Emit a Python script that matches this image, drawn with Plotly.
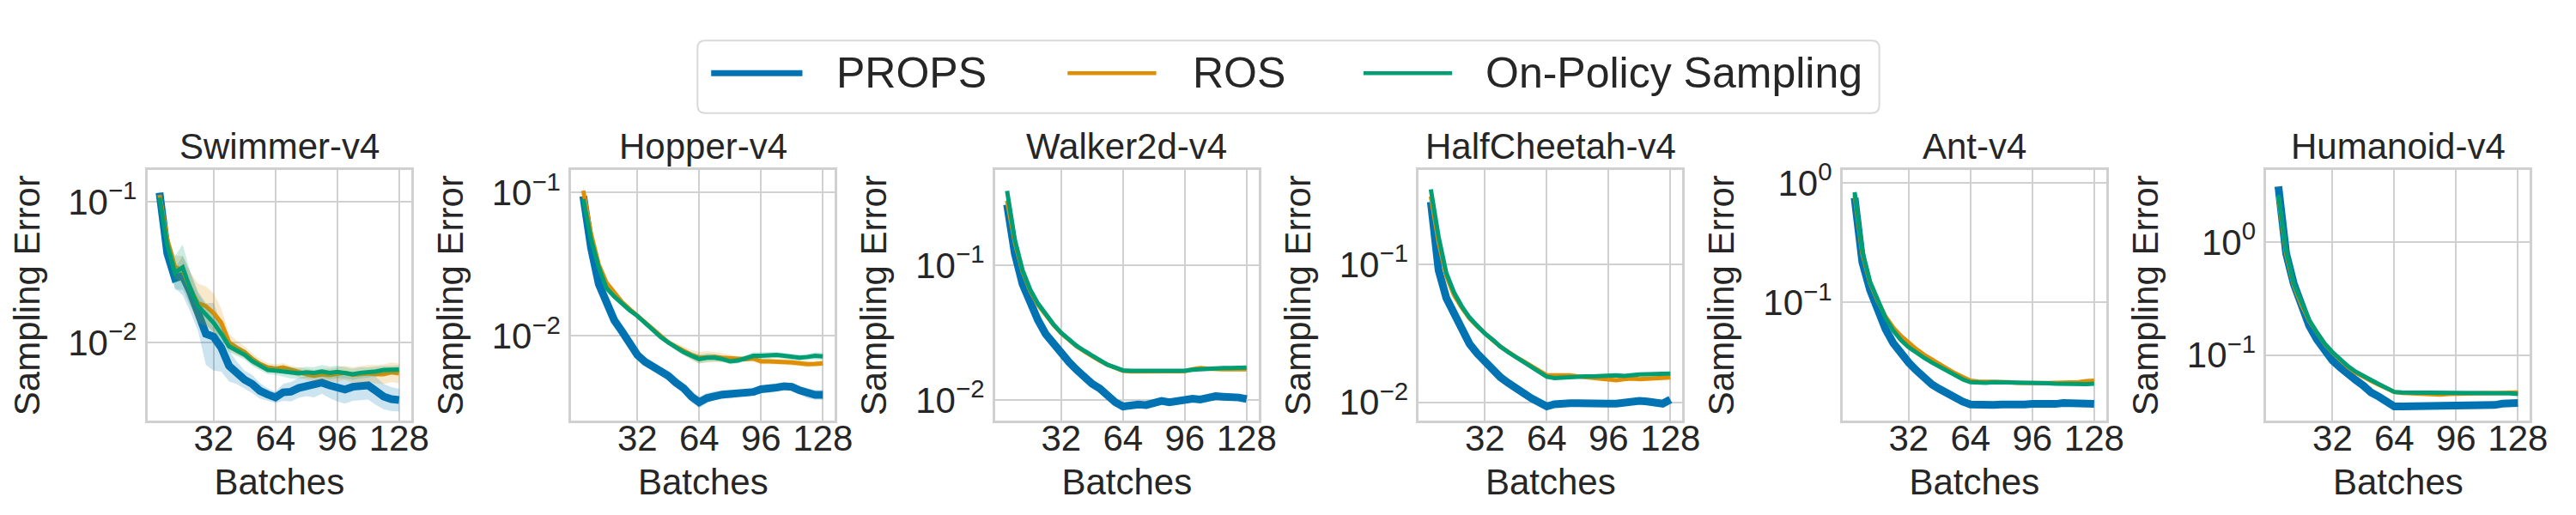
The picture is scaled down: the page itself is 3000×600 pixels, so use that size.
import numpy as np
import plotly.graph_objects as go

# x positions (batches) shared by every environment
batches = [4, 8, 12, 16, 20, 24, 28, 32, 36, 40, 44, 48, 52, 56, 60, 64,
           68, 72, 76, 80, 84, 88, 92, 96, 100, 104, 108, 112, 116, 120, 124, 128]

envs = ["Swimmer-v4", "Hopper-v4", "Walker2d-v4", "HalfCheetah-v4", "Ant-v4", "Humanoid-v4"]
methods = ["PROPS", "ROS", "On-Policy Sampling"]

# mean sampling error, stored as log10
swimmer_props = [-0.935, -1.365, -1.542, -1.523, -1.641, -1.779, -1.937, -1.957, -2.035, -2.164, -2.213, -2.262,
                 -2.292, -2.341, -2.367, -2.387, -2.351, -2.347, -2.321, -2.308, -2.308, -2.282, -2.302, -2.321,
                 -2.331, -2.312, -2.312, -2.302, -2.341, -2.381, -2.400, -2.406]
swimmer_ros = [-0.951, -1.266, -1.464, -1.483, -1.621, -1.720, -1.740, -1.789, -1.858, -1.996, -2.036, -2.065,
               -2.114, -2.150, -2.174, -2.183, -2.174, -2.193, -2.209, -2.223, -2.233, -2.223, -2.229, -2.223,
               -2.213, -2.227, -2.223, -2.217, -2.223, -2.223, -2.209, -2.217]
swimmer_onp = [-0.970, -1.306, -1.503, -1.464, -1.621, -1.740, -1.799, -1.858, -1.937, -2.026, -2.055, -2.085,
               -2.130, -2.164, -2.193, -2.197, -2.203, -2.213, -2.217, -2.209, -2.213, -2.203, -2.213, -2.207,
               -2.213, -2.223, -2.213, -2.209, -2.203, -2.193, -2.193, -2.189]

hopper_props = [-1.025, -1.384, -1.637, -1.773, -1.889, -1.967, -2.054, -2.132, -2.180, -2.210, -2.249, -2.278,
                -2.326, -2.365, -2.423, -2.462, -2.433, -2.414, -2.408, -2.404, -2.398, -2.398, -2.390, -2.371,
                -2.371, -2.359, -2.351, -2.355, -2.379, -2.400, -2.410, -2.410]
hopper_ros = [-0.986, -1.287, -1.501, -1.627, -1.695, -1.763, -1.812, -1.860, -1.909, -1.958, -2.006, -2.045,
              -2.074, -2.103, -2.132, -2.151, -2.146, -2.146, -2.151, -2.155, -2.161, -2.161, -2.157, -2.177,
              -2.177, -2.177, -2.181, -2.184, -2.190, -2.196, -2.194, -2.190]
hopper_onp = [-1.045, -1.326, -1.520, -1.666, -1.724, -1.773, -1.821, -1.860, -1.909, -1.958, -2.006, -2.045,
              -2.083, -2.113, -2.138, -2.161, -2.151, -2.151, -2.161, -2.177, -2.171, -2.157, -2.138, -2.138,
              -2.134, -2.132, -2.138, -2.146, -2.151, -2.146, -2.138, -2.142]

walker_props = [-0.553, -0.914, -1.140, -1.284, -1.407, -1.510, -1.582, -1.654, -1.716, -1.774, -1.829, -1.877,
                -1.912, -1.963, -2.014, -2.045, -2.035, -2.031, -2.035, -2.025, -2.004, -2.014, -2.004, -1.994,
                -1.988, -1.994, -1.979, -1.969, -1.973, -1.973, -1.979, -1.990]
walker_ros = [-0.523, -0.831, -1.047, -1.191, -1.294, -1.370, -1.442, -1.504, -1.556, -1.601, -1.638, -1.675,
              -1.708, -1.737, -1.761, -1.782, -1.786, -1.786, -1.786, -1.788, -1.790, -1.788, -1.786, -1.784,
              -1.770, -1.761, -1.765, -1.770, -1.770, -1.770, -1.772, -1.770]
walker_onp = [-0.451, -0.811, -1.037, -1.181, -1.284, -1.366, -1.438, -1.500, -1.551, -1.597, -1.634, -1.671,
              -1.706, -1.737, -1.757, -1.778, -1.782, -1.782, -1.782, -1.782, -1.784, -1.784, -1.784, -1.782,
              -1.774, -1.770, -1.765, -1.761, -1.761, -1.761, -1.759, -1.757]

cheetah_props = [-0.545, -1.040, -1.242, -1.364, -1.475, -1.576, -1.646, -1.707, -1.764, -1.818, -1.859, -1.889,
                 -1.933, -1.970, -2.000, -2.030, -2.014, -2.006, -2.006, -2.006, -2.010, -2.010, -2.014, -2.010,
                 -2.010, -2.000, -2.000, -1.990, -1.994, -2.000, -2.010, -1.980]
cheetah_ros = [-0.505, -0.838, -1.081, -1.222, -1.313, -1.390, -1.448, -1.501, -1.549, -1.596, -1.636, -1.671,
               -1.703, -1.737, -1.772, -1.804, -1.804, -1.802, -1.804, -1.812, -1.818, -1.824, -1.832, -1.836,
               -1.840, -1.832, -1.828, -1.832, -1.828, -1.824, -1.820, -1.820]
cheetah_onp = [-0.455, -0.798, -1.061, -1.202, -1.303, -1.384, -1.444, -1.501, -1.545, -1.596, -1.636, -1.671,
               -1.707, -1.743, -1.778, -1.814, -1.824, -1.820, -1.820, -1.818, -1.812, -1.812, -1.808, -1.804,
               -1.804, -1.808, -1.800, -1.798, -1.796, -1.794, -1.792, -1.792]

ant_props = [-0.124, -0.661, -0.895, -1.082, -1.222, -1.339, -1.432, -1.502, -1.568, -1.638, -1.685, -1.724,
             -1.764, -1.801, -1.829, -1.853, -1.857, -1.864, -1.857, -1.853, -1.857, -1.864, -1.853, -1.848,
             -1.848, -1.860, -1.848, -1.841, -1.841, -1.846, -1.848, -1.848]
ant_ros = [-0.100, -0.591, -0.836, -0.988, -1.117, -1.210, -1.280, -1.339, -1.390, -1.437, -1.479, -1.514,
           -1.554, -1.591, -1.626, -1.654, -1.661, -1.661, -1.659, -1.661, -1.666, -1.671, -1.673, -1.671,
           -1.673, -1.673, -1.671, -1.671, -1.671, -1.666, -1.657, -1.654]
ant_onp = [-0.077, -0.568, -0.825, -0.988, -1.129, -1.234, -1.315, -1.374, -1.421, -1.463, -1.502, -1.537,
           -1.572, -1.607, -1.643, -1.666, -1.671, -1.671, -1.666, -1.666, -1.668, -1.671, -1.671, -1.673,
           -1.675, -1.675, -1.678, -1.680, -1.685, -1.682, -1.682, -1.678]

humanoid_props = [0.494, -0.099, -0.370, -0.568, -0.741, -0.864, -0.963, -1.049, -1.111, -1.173, -1.222, -1.272,
                  -1.333, -1.370, -1.415, -1.457, -1.457, -1.457, -1.449, -1.444, -1.444, -1.444, -1.447, -1.444,
                  -1.444, -1.444, -1.444, -1.444, -1.444, -1.432, -1.427, -1.427]
humanoid_ros = [0.407, -0.099, -0.383, -0.556, -0.699, -0.810, -0.904, -0.978, -1.042, -1.106, -1.156, -1.198,
                -1.230, -1.264, -1.299, -1.328, -1.336, -1.338, -1.346, -1.351, -1.353, -1.351, -1.346, -1.343,
                -1.341, -1.341, -1.338, -1.338, -1.338, -1.336, -1.333, -1.333]
humanoid_onp = [0.420, -0.074, -0.370, -0.543, -0.691, -0.802, -0.901, -0.975, -1.037, -1.099, -1.148, -1.190,
                -1.222, -1.259, -1.296, -1.328, -1.333, -1.333, -1.333, -1.336, -1.336, -1.336, -1.333, -1.336,
                -1.336, -1.336, -1.336, -1.338, -1.338, -1.338, -1.341, -1.346]

# half-width of the shaded band, in decades (only visible on Swimmer / Hopper)
swimmer_props_band = [0.034, 0.06, 0.07, 0.14, 0.14, 0.14, 0.22, 0.24, 0.17, 0.11, 0.08, 0.065, 0.065, 0.055, 0.045,
                      0.04, 0.06, 0.07, 0.07, 0.07, 0.08, 0.08, 0.09, 0.095, 0.1, 0.1, 0.095, 0.1, 0.1, 0.09, 0.085, 0.08]
swimmer_ros_band = [0.03, 0.05, 0.08, 0.1, 0.12, 0.14, 0.14, 0.14, 0.1, 0.06, 0.05, 0.04, 0.04, 0.035, 0.03, 0.03,
                    0.03, 0.03, 0.035, 0.04, 0.04, 0.04, 0.045, 0.05, 0.05, 0.055, 0.06, 0.06, 0.065, 0.07, 0.07, 0.07]
swimmer_onp_band = [0.05, 0.06, 0.12, 0.16, 0.12, 0.09, 0.07, 0.06, 0.05, 0.04, 0.04, 0.035, 0.035, 0.03, 0.03, 0.03,
                    0.035, 0.04, 0.04, 0.04, 0.04, 0.045, 0.045, 0.045, 0.04, 0.04, 0.04, 0.035, 0.035, 0.03, 0.03, 0.03]
hopper_props_band = [0.03, 0.02, 0.02, 0.02, 0.02, 0.02, 0.02, 0.025, 0.03, 0.03, 0.03, 0.035, 0.035, 0.035, 0.04, 0.04,
                     0.035, 0.03, 0.03, 0.03, 0.025, 0.025, 0.025, 0.025, 0.025, 0.025, 0.025, 0.025, 0.03, 0.035, 0.035, 0.035]
hopper_ros_band = [0.04, 0.02, 0.02, 0.015, 0.015, 0.015, 0.015, 0.02, 0.02, 0.02, 0.02, 0.02, 0.025, 0.03, 0.035, 0.04,
                   0.04, 0.035, 0.03, 0.025, 0.02, 0.02, 0.02, 0.02, 0.02, 0.02, 0.02, 0.02, 0.02, 0.02, 0.02, 0.02]
hopper_onp_band = [0.02, 0.015, 0.015, 0.015, 0.015, 0.015, 0.015, 0.015, 0.015, 0.015, 0.015, 0.02, 0.02, 0.02, 0.025,
                   0.03, 0.03, 0.025, 0.02, 0.02, 0.02, 0.02, 0.025, 0.025, 0.025, 0.02, 0.02, 0.02, 0.02, 0.02, 0.025, 0.025]

curves = {
    "Swimmer-v4": [swimmer_props, swimmer_ros, swimmer_onp],
    "Hopper-v4": [hopper_props, hopper_ros, hopper_onp],
    "Walker2d-v4": [walker_props, walker_ros, walker_onp],
    "HalfCheetah-v4": [cheetah_props, cheetah_ros, cheetah_onp],
    "Ant-v4": [ant_props, ant_ros, ant_onp],
    "Humanoid-v4": [humanoid_props, humanoid_ros, humanoid_onp],
}
bands = {
    "Swimmer-v4": [swimmer_props_band, swimmer_ros_band, swimmer_onp_band],
    "Hopper-v4": [hopper_props_band, hopper_ros_band, hopper_onp_band],
}

x_ticks = [32, 64, 96, 128]
y_ticks = {
    "Swimmer-v4": [-2, -1], "Hopper-v4": [-2, -1], "Walker2d-v4": [-2, -1],
    "HalfCheetah-v4": [-2, -1], "Ant-v4": [-1, 0], "Humanoid-v4": [-1, 0],
}
# visible y window of each panel, log10 units
y_ranges = {
    "Swimmer-v4": [-2.554, -0.773], "Hopper-v4": [-2.592, -0.841], "Walker2d-v4": [-2.152, -0.296],
    "HalfCheetah-v4": [-2.135, -0.313], "Ant-v4": [-1.99, 0.110], "Humanoid-v4": [-1.585, 0.642],
}

colors = ["#0173b2", "#de8f05", "#029e73"]
fills = ["rgba(1,115,178,0.2)", "rgba(222,143,5,0.2)", "rgba(2,158,115,0.2)"]
widths = [9, 5, 5]

W, H = 3000, 600
FONT = "Arial, Liberation Sans, sans-serif"
TXT = "#262626"
GRID = "#d0d0d0"
panel_left = [165, 662, 1159, 1656, 2153, 2650]
panel_w = 309
y_dom = [1 - 481 / H, 1 - 180 / H]

fig = go.Figure()
annotations = []
layout_axes = {}

for i, env in enumerate(envs):
    n = "" if i == 0 else str(i + 1)
    for k, m in enumerate(methods):
        mean = np.array(curves[env][k])
        if env in bands:
            s = np.array(bands[env][k])
            fig.add_trace(go.Scatter(
                x=batches + batches[::-1],
                y=list(10 ** (mean + s)) + list(10 ** (mean - s))[::-1],
                fill="toself", fillcolor=fills[k], line=dict(width=0),
                hoverinfo="skip", showlegend=False, xaxis="x" + n, yaxis="y" + n))
        fig.add_trace(go.Scatter(
            x=batches, y=10 ** mean, mode="lines", name=m,
            line=dict(color=colors[k], width=widths[k]),
            showlegend=False, xaxis="x" + n, yaxis="y" + n))

    x0 = panel_left[i] / W
    x1 = (panel_left[i] + panel_w) / W
    layout_axes["xaxis" + n] = dict(
        domain=[x0, x1], anchor="y" + n, range=[-2.2, 134.2],
        tickvals=x_ticks, ticks="", ticklabelstandoff=-19,
        tickfont=dict(size=42, color=TXT, family=FONT),
        title=dict(text="Batches", font=dict(size=42, color=TXT, family=FONT), standoff=14),
        showgrid=True, gridcolor=GRID, gridwidth=2, zeroline=False,
        showline=True, mirror=True, linecolor=GRID, linewidth=3)
    yt = y_ticks[env]
    layout_axes["yaxis" + n] = dict(
        domain=y_dom, anchor="x" + n, type="log", range=y_ranges[env],
        tickvals=[10.0 ** e for e in yt],
        ticktext=["10<sup>%s</sup>" % str(e).replace("-", "\u2212") for e in yt],
        ticks="", ticklabelstandoff=1,
        tickfont=dict(size=42, color=TXT, family=FONT),
        title=dict(text="Sampling Error", font=dict(size=42, color=TXT, family=FONT), standoff=21),
        showgrid=True, gridcolor=GRID, gridwidth=2, zeroline=False,
        showline=True, mirror=True, linecolor=GRID, linewidth=3)
    annotations.append(dict(
        text=env, x=(x0 + x1) / 2, y=y_dom[1], xref="paper", yref="paper",
        xanchor="center", yanchor="bottom", yshift=2, showarrow=False,
        font=dict(size=42, color=TXT, family=FONT)))

# legend drawn by hand so the line samples match the long handles of the original
shapes = []
bx0, bx1 = 810 / W, 2196 / W
by0, by1 = 1 - 112 / H, 1 - 25 / H
rx, ry = 9 / W, 9 / H
shapes.append(dict(
    type="path", xref="paper", yref="paper",
    path=(f"M {bx0 + rx},{by0} L {bx1 - rx},{by0} Q {bx1},{by0} {bx1},{by0 + ry} "
          f"L {bx1},{by1 - ry} Q {bx1},{by1} {bx1 - rx},{by1} L {bx0 + rx},{by1} "
          f"Q {bx0},{by1} {bx0},{by1 - ry} L {bx0},{by0 + ry} Q {bx0},{by0} {bx0 + rx},{by0} Z"),
    line=dict(color="#d9d9d9", width=2), fillcolor="white", layer="above"))
handle_x = [(826, 933), (1244, 1348), (1591, 1695)]
label_x = [971, 1389, 1732]
legend_y = 1 - 64 / H
for k, m in enumerate(methods):
    shapes.append(dict(
        type="line", xref="paper", yref="paper",
        x0=handle_x[k][0] / W, x1=handle_x[k][1] / W, y0=legend_y, y1=legend_y,
        line=dict(color=colors[k], width=7 if k == 0 else 4.5), layer="above"))
    annotations.append(dict(
        text=m, x=label_x[k] / W, y=legend_y, xref="paper", yref="paper",
        xanchor="left", yanchor="middle", showarrow=False,
        font=dict(size=50, color=TXT, family=FONT)))

fig.update_layout(
    width=W, height=H,
    margin=dict(l=0, r=0, t=0, b=0),
    paper_bgcolor="white", plot_bgcolor="white",
    showlegend=False,
    annotations=annotations, shapes=shapes,
    **layout_axes)

fig.write_html("out.html")
